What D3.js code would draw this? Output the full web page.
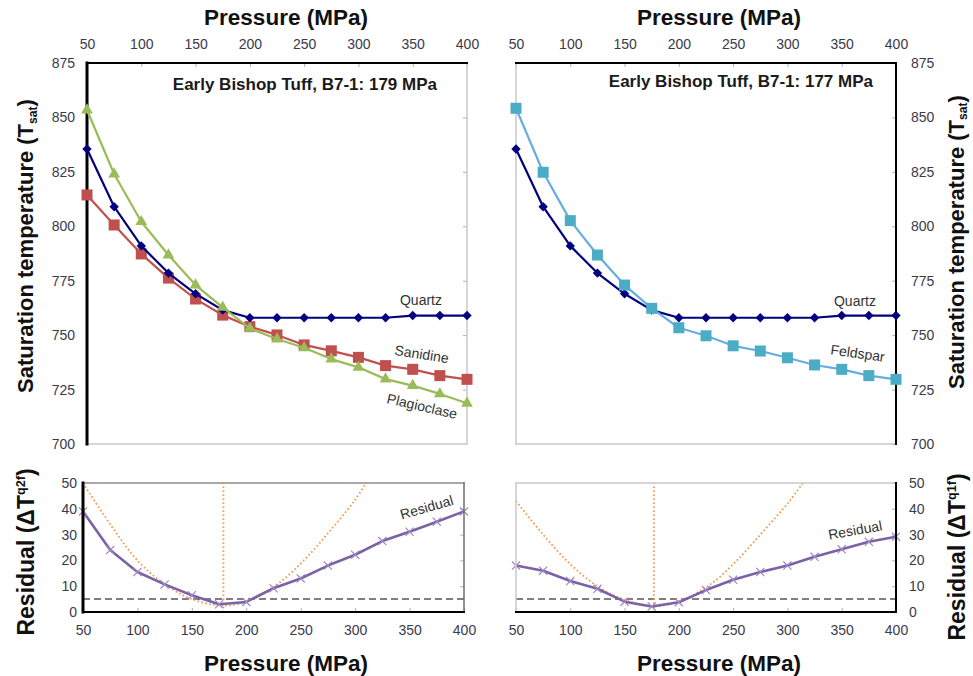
<!DOCTYPE html>
<html>
<head>
<meta charset="utf-8">
<script src="https://cdn.jsdelivr.net/npm/d3@7"></script>
<style>
  html, body { margin: 0; padding: 0; background: #fff; }
  svg { display: block; font-family: "Liberation Sans", Arial, sans-serif; }
</style>
</head>
<body>
<svg id="chart" width="973" height="676"></svg>
<script>
// Pressure steps (MPa) at which saturation temperatures were computed
const pressure = [50, 75, 100, 125, 150, 175, 200, 225, 250, 275, 300, 325, 350, 375, 400];

// Saturation temperatures (°C)
const quartz      = [835.5, 809, 791, 778.5, 769, 761.5, 758, 758, 758, 758, 758, 758, 759, 759, 759];
const sanidine    = [814.4, 800.6, 787.3, 776.2, 766.6, 759.2, 753.9, 750.1, 745.5, 742.8, 739.8, 736, 734.3, 731.4, 729.7];
const plagioclase = [853.4, 824, 802.1, 786.8, 773, 762.8, 753.1, 748.2, 744.2, 739, 735.2, 729.8, 726.8, 723, 718.7];
const feldspar    = [854.2, 824.8, 802.6, 786.8, 773, 762.3, 753.4, 749.7, 745.1, 742.7, 739.6, 736.3, 734.3, 731.4, 729.7];

// Residuals (ΔT) for the two-feldspar (q2f) and one-feldspar (q1f) cases
const residualQ2 = [39, 24, 15.5, 10.7, 6.5, 3, 3.9, 9.2, 13, 18, 22.2, 27.5, 31.1, 35, 39];
const residualQ1 = [18, 16, 12, 9, 4, 2.1, 3.8, 8.5, 12.5, 15.5, 18, 21.4, 24.3, 27.2, 29.2];

// Fitted minimum curves around the best pressure
const fitQ2P = [50, 75, 100, 125, 150, 179, 205, 230, 254, 278, 300, 310];
const fitQ2R = [50, 34, 20, 10.8, 5, 2.5, 4.8, 11.2, 20.5, 32, 43.5, 50];
const fitQ1P = [50, 75, 100, 125, 150, 177, 201, 229, 253, 278, 302, 314];
const fitQ1R = [43, 30, 18.5, 10, 4.7, 2.2, 4.3, 10.7, 19.8, 31.4, 43, 50];
const bestP = [179, 177];
const threshold = 5;

// Tick values
const pressureTicks = [50, 100, 150, 200, 250, 300, 350, 400];
const tempTicks = [700, 725, 750, 775, 800, 825, 850, 875];
const residualTicks = [0, 10, 20, 30, 40, 50];

const svg = d3.select("#chart");
svg.append("rect").attr("width", 973).attr("height", 676).attr("fill", "#fff");

const C = {
  quartz: "#000080", sanidine: "#c0504d", plag: "#9bbb59",
  feldLine: "#66aee0", feldMark: "#4bacc6",
  resid: "#7b61a6", residMark: "#9c88c4",
  fit: "#f79646", dash: "#7f7f7f", tickText: "#3a3a4a", tick: "#b0b0b0"
};

// Panel geometry
const topY = [444, 63], botY = [612, 483];
const xTL = d3.scaleLinear().domain([50, 400]).range([87, 467]);
const xTR = d3.scaleLinear().domain([50, 400]).range([516, 896]);
const xBL = d3.scaleLinear().domain([50, 400]).range([83, 464]);
const xBR = d3.scaleLinear().domain([50, 400]).range([516, 896]);
const yT = d3.scaleLinear().domain([700, 875]).range(topY);
const yB = d3.scaleLinear().domain([0, 50]).range(botY);

function styleAxis(g) {
  g.select(".domain").remove();
  g.selectAll(".tick line").attr("stroke", C.tick).attr("stroke-width", 1);
  g.selectAll(".tick text").attr("fill", C.tickText).attr("font-size", 14)
    .attr("font-family", "'Liberation Sans', Arial, sans-serif");
}

function frame(x, y, sides) {
  const [x0, x1] = x.range(), [y0, y1] = [y.range()[1], y.range()[0]];
  const seg = {
    top: [x0, y0, x1, y0], bottom: [x0, y1, x1, y1],
    left: [x0, y0, x0, y1], right: [x1, y0, x1, y1]
  };
  Object.entries(sides).forEach(([k, s]) => {
    const [a, b, c, d] = seg[k];
    svg.append("line").attr("x1", a).attr("y1", b).attr("x2", c).attr("y2", d)
      .attr("stroke", s[0]).attr("stroke-width", s[1]).attr("stroke-linecap", "square");
  });
}

function clip(id, x, y) {
  const [x0, x1] = x.range(), [y1, y0] = y.range();
  svg.append("clipPath").attr("id", id).append("rect")
    .attr("x", x0).attr("y", y0 - 1).attr("width", x1 - x0).attr("height", y1 - y0 + 2);
}

function series(x, y, vals, lineColor, width, markFn) {
  const pts = pressure.map((p, i) => [x(p), y(vals[i])]);
  svg.append("path").attr("d", d3.line()(pts)).attr("fill", "none")
    .attr("stroke", lineColor).attr("stroke-width", width).attr("stroke-linejoin", "round");
  pts.forEach(p => markFn(p));
}

const diamond = c => p => svg.append("path")
  .attr("d", d3.symbol(d3.symbolDiamond2, 56)()).attr("transform", `translate(${p[0]},${p[1]})`).attr("fill", c);
const square = c => p => svg.append("rect")
  .attr("x", p[0] - 5.5).attr("y", p[1] - 5.5).attr("width", 11).attr("height", 11).attr("fill", c);
const triangle = c => p => svg.append("path")
  .attr("d", d3.symbol(d3.symbolTriangle, 60)()).attr("transform", `translate(${p[0]},${p[1]})`).attr("fill", c);
const cross = c => p => svg.append("path")
  .attr("d", d3.symbol(d3.symbolX, 45)()).attr("transform", `translate(${p[0]},${p[1]})`)
  .attr("fill", "none").attr("stroke", c).attr("stroke-width", 1.2);

// ---------- Top-left: saturation temperatures, two feldspars ----------
svg.append("g").attr("transform", `translate(0,${topY[1]})`)
  .call(d3.axisTop(xTL).tickValues(pressureTicks).tickSize(-4).tickPadding(14)).call(styleAxis);
svg.append("g").attr("transform", `translate(${xTL.range()[0]},0)`)
  .call(d3.axisLeft(yT).tickValues(tempTicks).tickSize(0).tickPadding(12)).call(styleAxis);
svg.append("g").attr("transform", `translate(${xTL.range()[1]},0)`)
  .call(d3.axisLeft(yT).tickValues(tempTicks.slice(1, -1)).tickSize(4).tickFormat("")).call(styleAxis);
frame(xTL, yT, { right: ["#c8c8c8", 1.5], bottom: ["#c8c8c8", 1.5], top: ["#000", 2], left: ["#000", 3] });

series(xTL, yT, sanidine, C.sanidine, 2.2, square(C.sanidine));
series(xTL, yT, quartz, C.quartz, 2.2, diamond(C.quartz));
series(xTL, yT, plagioclase, C.plag, 2.2, triangle(C.plag));

// ---------- Top-right: saturation temperatures, one feldspar ----------
svg.append("g").attr("transform", `translate(0,${topY[1]})`)
  .call(d3.axisTop(xTR).tickValues(pressureTicks).tickSize(-4).tickPadding(14)).call(styleAxis);
svg.append("g").attr("transform", `translate(${xTR.range()[1]},0)`)
  .call(d3.axisRight(yT).tickValues(tempTicks).tickSize(-4).tickPadding(15)).call(styleAxis);
frame(xTR, yT, { left: ["#c8c8c8", 1.5], bottom: ["#c8c8c8", 1.5], top: ["#000", 2], right: ["#000", 2] });

series(xTR, yT, quartz, C.quartz, 2.2, diamond(C.quartz));
series(xTR, yT, feldspar, C.feldLine, 2.2, square(C.feldMark));

// ---------- Residual panels ----------
function residualPanel(x, vals, fitP, fitR, best, id, side) {
  clip(id, x, yB);
  const g = svg.append("g");
  if (side === "left") {
    g.append("g").attr("transform", `translate(${x.range()[0]},0)`)
      .call(d3.axisLeft(yB).tickValues(residualTicks).tickSize(0).tickPadding(6)).call(styleAxis);
    g.append("g").attr("transform", `translate(${x.range()[1]},0)`)
      .call(d3.axisLeft(yB).tickValues(residualTicks.slice(1, -1)).tickSize(4).tickFormat("")).call(styleAxis);
  } else {
    g.append("g").attr("transform", `translate(${x.range()[1]},0)`)
      .call(d3.axisRight(yB).tickValues(residualTicks).tickSize(-4).tickPadding(13)).call(styleAxis);
  }
  g.append("g").attr("transform", `translate(0,${botY[0]})`)
    .call(d3.axisBottom(x).tickValues(pressureTicks).tickSize(-4).tickPadding(13)).call(styleAxis);

  // threshold
  svg.append("line").attr("x1", x.range()[0]).attr("x2", x.range()[1])
    .attr("y1", yB(threshold)).attr("y2", yB(threshold))
    .attr("stroke", C.dash).attr("stroke-width", 2).attr("stroke-dasharray", "7,4");
  // fitted curve and best pressure
  const cg = svg.append("g").attr("clip-path", `url(#${id})`);
  cg.append("path").attr("d", d3.line().curve(d3.curveCatmullRom)(fitP.map((p, i) => [x(p), yB(fitR[i])])))
    .attr("fill", "none").attr("stroke", C.fit).attr("stroke-width", 1.8).attr("stroke-dasharray", "1.6,2.4");
  cg.append("line").attr("x1", x(best)).attr("x2", x(best)).attr("y1", botY[0]).attr("y2", botY[1])
    .attr("stroke", C.fit).attr("stroke-width", 1.8).attr("stroke-dasharray", "1.6,2.4");

  series(x, yB, vals, C.resid, 2.6, cross(C.residMark));
}
residualPanel(xBL, residualQ2, fitQ2P, fitQ2R, bestP[0], "clipBL", "left");
frame(xBL, yB, { top: ["#8c8c8c", 1.5], right: ["#6c6c6c", 1.5], bottom: ["#000", 2], left: ["#000", 3] });
residualPanel(xBR, residualQ1, fitQ1P, fitQ1R, bestP[1], "clipBR", "right");
frame(xBR, yB, { top: ["#c8c8c8", 1.5], left: ["#c8c8c8", 1.5], bottom: ["#000", 2], right: ["#000", 2] });

// ---------- Text ----------
function txt(x, y, s, o = {}) {
  return svg.append("text").attr("x", x).attr("y", y).text(s)
    .attr("font-size", o.size || 12).attr("font-weight", o.weight || "normal")
    .attr("fill", o.fill || "#222").attr("text-anchor", o.anchor || "middle")
    .attr("transform", o.rot ? `rotate(${o.rot},${x},${y})` : null);
}

// Axis titles
txt(286, 25, "Pressure (MPa)", { size: 22.5, weight: "bold", fill: "#111" });
txt(719, 25, "Pressure (MPa)", { size: 22.5, weight: "bold", fill: "#111" });
txt(286, 671, "Pressure (MPa)", { size: 22.5, weight: "bold", fill: "#111" });
txt(719, 671, "Pressure (MPa)", { size: 22.5, weight: "bold", fill: "#111" });

function vTitle(x, y, main, small, smallShift, tail, size) {
  const t = svg.append("text").attr("transform", `translate(${x},${y}) rotate(-90)`)
    .attr("text-anchor", "middle").attr("font-size", size).attr("font-weight", "bold").attr("fill", "#111");
  t.append("tspan").text(main);
  t.append("tspan").text(small).attr("font-size", size * 0.55).attr("dy", smallShift);
  t.append("tspan").text(tail).attr("dy", -smallShift);
}
vTitle(33, 246, "Saturation temperature (T", "sat", 4, ")", 22);
vTitle(964, 242, "Saturation temperature (T", "sat", 3, ")", 22);
vTitle(34, 552, "Residual (\u0394T", "q2f", -9, ")", 23);
vTitle(965, 557, "Residual (\u0394T", "q1f", -9, ")", 23);

// Panel titles
txt(437, 90, "Early Bishop Tuff, B7-1: 179 MPa", { size: 17, weight: "bold", anchor: "end", fill: "#1a1a1a" });
txt(873, 87, "Early Bishop Tuff, B7-1: 177 MPa", { size: 17, weight: "bold", anchor: "end", fill: "#1a1a1a" });

// Series labels
txt(421, 305, "Quartz", { size: 14, fill: "#333" });
txt(421, 359, "Sanidine", { size: 14, fill: "#333", rot: 9 });
txt(421, 411, "Plagioclase", { size: 14, fill: "#333", rot: 13 });
txt(855, 306, "Quartz", { size: 14, fill: "#333" });
txt(857, 358, "Feldspar", { size: 14, fill: "#333", rot: 8 });
txt(428, 512, "Residual", { size: 14, fill: "#333", rot: -16 });
txt(856, 535, "Residual", { size: 14, fill: "#333", rot: -10 });
</script>
</body>
</html>
